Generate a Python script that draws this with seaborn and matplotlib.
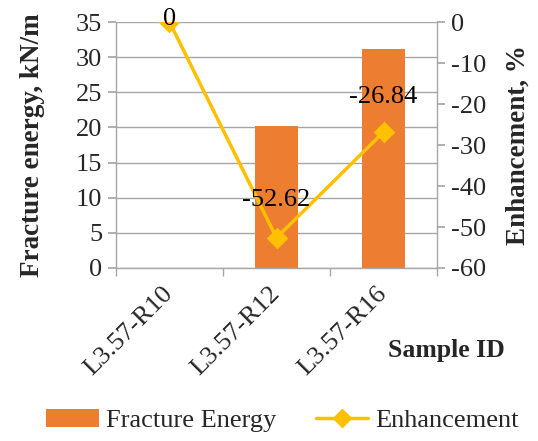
import numpy as np
import matplotlib
matplotlib.use("Agg")
import matplotlib.pyplot as plt
import seaborn as sns
from matplotlib.patches import Patch
from matplotlib.lines import Line2D

categories = ["L3.57-R10", "L3.57-R12", "L3.57-R16"]
fracture_energy = [np.nan, 20.2, 31.2]
enhancement = [0, -52.62, -26.84]
enh_labels = ["0", "-52.62", "-26.84"]

sns.set_theme(style="white")
plt.rcParams["font.family"] = ["Liberation Serif", "DejaVu Serif"]
plt.rcParams["axes.unicode_minus"] = False

BAR = "#ED7D31"
LINE = "#FFC000"
GRID = "#A6A6A6"

fig = plt.figure(figsize=(5.38, 4.41), dpi=100)
ax = fig.add_axes([0.2156, 0.3923, 0.8123 - 0.2156, 0.950 - 0.3923])

sns.barplot(x=categories, y=fracture_energy, ax=ax, color=BAR, width=0.4,
            saturation=1, edgecolor="none")
ax.set_ylim(0, 35)
ax.set_yticks(np.arange(0, 36, 5))
ax.yaxis.grid(True, color=GRID, linewidth=1)
ax.set_axisbelow(True)
for s in ["top", "right"]:
    ax.spines[s].set_visible(False)
for s in ["left", "bottom"]:
    ax.spines[s].set_color(GRID)
    ax.spines[s].set_linewidth(1)

ax2 = ax.twinx()
sns.pointplot(x=categories, y=enhancement, ax=ax2, color=LINE, markers="D",
              linestyles="-", markersize=9, linewidth=2.5)
ax2.set_ylim(-60, 0)
ax2.set_yticks(np.arange(-60, 1, 10))
for s in ["top", "left", "bottom"]:
    ax2.spines[s].set_visible(False)
ax2.spines["right"].set_color(GRID)
ax2.spines["right"].set_linewidth(1)

ax.set_xlim(-0.5, 2.5)
ax2.set_xlim(-0.5, 2.5)

ax.set_xticks([-0.5, 0.5, 1.5, 2.5], minor=True)
ax.tick_params(axis="x", which="minor", length=6, color=GRID, width=1, direction="out", bottom=True)
ax.tick_params(axis="x", which="major", length=0, labelsize=19, pad=16)
ax.set_xticks(range(len(categories)))
ax.set_xticklabels(categories, rotation=45, ha="right", va="center", rotation_mode="anchor")
ax.tick_params(axis="y", labelsize=19, length=6, color=GRID, left=True, direction="out", pad=4)
ax2.tick_params(axis="y", labelsize=19, length=6, color=GRID, right=True, direction="out", pad=4)

ax.set_ylabel("Fracture energy, kN/m", fontsize=19.5, fontweight="bold", labelpad=22)
ax2.set_ylabel("Enhancement, %", fontsize=19.5, fontweight="bold", labelpad=14)
ax.set_xlabel("")
fig.text(0.829, 0.206, "Sample ID", fontsize=18.5, fontweight="bold", ha="center", va="center")

offsets = [(0, 2), (0, 27), (0, 25)]
for i, (v, t) in enumerate(zip(enhancement, enh_labels)):
    ax2.annotate(t, xy=(i, v), xytext=offsets[i], textcoords="offset points",
                 ha="center", va="center", fontsize=19, color="black", annotation_clip=False)

handles = [Patch(facecolor=BAR, edgecolor="none"),
           Line2D([0], [0], color=LINE, lw=2.5, marker="D", markersize=9)]
fig.legend(handles, ["Fracture Energy", "Enhancement"], loc="center",
           bbox_to_anchor=(0.525, 0.046), ncol=2, frameon=False, fontsize=19,
           handlelength=2.0, columnspacing=1.5, handletextpad=0.25)

fig.savefig("out.png", dpi=100)
